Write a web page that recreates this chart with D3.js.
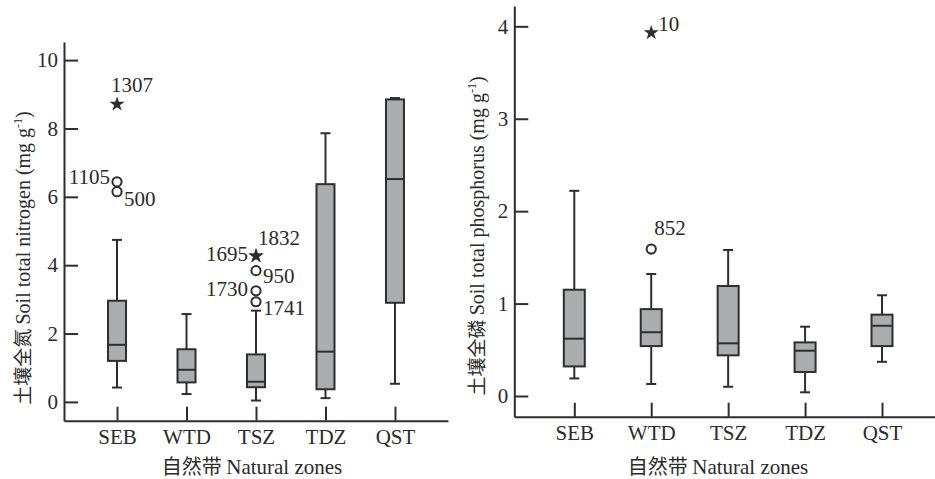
<!DOCTYPE html>
<html>
<head>
<meta charset="utf-8">
<script src="https://cdn.jsdelivr.net/npm/d3@7"></script>
<style>
  body { margin: 0; background: #fff; }
  text { font-family: "Liberation Serif", "Times New Roman", serif; fill: #2a2a2a; }
  .cjk { font-family: "Noto Sans CJK SC", sans-serif; fill: #2a2a2a; }
</style>
</head>
<body>
<script>
// zones on the x axis
var zones = ["SEB", "WTD", "TSZ", "TDZ", "QST"];

// total nitrogen (mg g-1), box statistics per zone
var nLow    = [0.42, 0.23, 0.04, 0.11, 0.53];
var nQ1     = [1.20, 0.57, 0.43, 0.37, 2.90];
var nMedian = [1.67, 0.94, 0.59, 1.47, 6.52];
var nQ3     = [2.96, 1.54, 1.39, 6.37, 8.85];
var nHigh   = [4.74, 2.57, 2.67, 7.86, 8.89];
var nOutliers = [
  {zone: "SEB", value: 8.71, id: "1307", kind: "extreme"},
  {zone: "SEB", value: 6.44, id: "1105", kind: "outlier"},
  {zone: "SEB", value: 6.15, id: "500",  kind: "outlier"},
  {zone: "TSZ", value: 4.27, id: "1695", kind: "extreme"},
  {zone: "TSZ", value: 4.27, id: "1832", kind: "extreme"},
  {zone: "TSZ", value: 3.84, id: "950",  kind: "outlier"},
  {zone: "TSZ", value: 3.25, id: "1730", kind: "outlier"},
  {zone: "TSZ", value: 2.93, id: "1741", kind: "outlier"}
];
var nTicks = [0, 2, 4, 6, 8, 10];

// total phosphorus (mg g-1)
var pLow    = [0.19, 0.13, 0.10, 0.04, 0.37];
var pQ1     = [0.32, 0.54, 0.44, 0.26, 0.54];
var pMedian = [0.62, 0.69, 0.57, 0.49, 0.76];
var pQ3     = [1.15, 0.94, 1.19, 0.58, 0.88];
var pHigh   = [2.22, 1.32, 1.58, 0.75, 1.09];
var pOutliers = [
  {zone: "WTD", value: 3.93, id: "10",  kind: "extreme"},
  {zone: "WTD", value: 1.59, id: "852", kind: "outlier"}
];
var pTicks = [0, 1, 2, 3, 4];

// where each id label sits relative to its point: [dx, dy, anchor]
var labelPlace = {
  "1307": [-6, -12, "start"], "1105": [-7, 2, "end"], "500": [7, 14, "start"],
  "1695": [-8, 5, "end"], "1832": [2, -11, "start"], "950": [7, 12, "start"],
  "1730": [-8, 5, "end"], "1741": [7, 13, "start"],
  "10": [7, -2, "start"], "852": [3, -14, "start"]
};

var ink = "#2e2e2e";
var boxFill = "#abacae";
var fs = 21;

var svg = d3.select("body").append("svg").attr("width", 935).attr("height", 479);

function stats(low, q1, med, q3, high) {
  return zones.map(function(z, i) {
    return {zone: z, low: low[i], q1: q1[i], med: med[i], q3: q3[i], high: high[i]};
  });
}

function drawPanel(p) {
  var x = d3.scalePoint().domain(zones).range(p.xRange).padding(p.xPad);
  var y = d3.scaleLinear().domain(p.yDomain).range(p.yRange);
  var g = svg.append("g");
  var x0 = p.xRange[0], y0 = p.yRange[0];

  // axes, ticks pointing inwards
  var yAxis = d3.axisLeft(y).tickValues(p.ticks).tickFormat(d3.format("d"))
    .tickSize(-14).tickSizeOuter(0).tickPadding(6);
  var xAxis = d3.axisBottom(x).tickSize(-14).tickSizeOuter(0).tickPadding(8);

  var ya = g.append("g").attr("transform", "translate(" + x0 + ",0)").call(yAxis);
  var xa = g.append("g").attr("transform", "translate(0," + y0 + ")").call(xAxis);
  [ya, xa].forEach(function(a) {
    a.select(".domain").attr("stroke", ink).attr("stroke-width", 2);
    a.selectAll(".tick line").attr("stroke", ink).attr("stroke-width", 2);
    a.selectAll(".tick text").attr("font-size", fs).attr("fill", ink);
  });

  // boxes
  var bw = p.boxW, cap = p.capW;
  var box = g.selectAll(".box").data(p.data).enter().append("g");
  box.append("line")
    .attr("x1", function(d){ return x(d.zone); }).attr("x2", function(d){ return x(d.zone); })
    .attr("y1", function(d){ return y(d.high); }).attr("y2", function(d){ return y(d.low); })
    .attr("stroke", ink).attr("stroke-width", 2);
  ["high", "low"].forEach(function(k) {
    box.append("line")
      .attr("x1", function(d){ return x(d.zone) - cap / 2; }).attr("x2", function(d){ return x(d.zone) + cap / 2; })
      .attr("y1", function(d){ return y(d[k]); }).attr("y2", function(d){ return y(d[k]); })
      .attr("stroke", ink).attr("stroke-width", 2);
  });
  box.append("rect")
    .attr("x", function(d){ return x(d.zone) - bw / 2; })
    .attr("width", bw)
    .attr("y", function(d){ return y(d.q3); })
    .attr("height", function(d){ return y(d.q1) - y(d.q3); })
    .attr("fill", boxFill).attr("stroke", ink).attr("stroke-width", 2);
  box.append("line")
    .attr("x1", function(d){ return x(d.zone) - bw / 2; }).attr("x2", function(d){ return x(d.zone) + bw / 2; })
    .attr("y1", function(d){ return y(d.med); }).attr("y2", function(d){ return y(d.med); })
    .attr("stroke", ink).attr("stroke-width", 2);

  // outliers: circles and stars
  var star = d3.symbol().type(d3.symbolStar).size(70);
  p.outliers.forEach(function(o) {
    var cx = x(o.zone), cy = y(o.value);
    if (o.kind === "extreme") {
      g.append("path").attr("d", star).attr("transform", "translate(" + cx + "," + cy + ")").attr("fill", ink);
    } else {
      g.append("circle").attr("cx", cx).attr("cy", cy).attr("r", 4.6)
        .attr("fill", "#fff").attr("stroke", ink).attr("stroke-width", 2);
    }
    var lp = labelPlace[o.id];
    g.append("text").attr("x", cx + lp[0]).attr("y", cy + lp[1])
      .attr("text-anchor", lp[2]).attr("font-size", fs).text(o.id);
  });

  // axis titles
  var xt = g.append("text").attr("x", p.xTitle[0]).attr("y", p.xTitle[1])
    .attr("text-anchor", "middle").attr("font-size", fs);
  xt.append("tspan").attr("class", "cjk").attr("font-size", 20).text("自然带 ");
  xt.append("tspan").text("Natural zones");

  var yt = g.append("text")
    .attr("transform", "translate(" + p.yTitle[0] + "," + p.yTitle[1] + ") rotate(-90)")
    .attr("text-anchor", "middle").attr("font-size", 20);
  yt.append("tspan").attr("class", "cjk").attr("font-size", 19).text(p.cjk + " ");
  yt.append("tspan").text(p.label + " (mg g");
  yt.append("tspan").attr("font-size", 12).attr("dy", -8).text("-1");
  yt.append("tspan").attr("dy", 8).text(")");
}

drawPanel({
  data: stats(nLow, nQ1, nMedian, nQ3, nHigh),
  outliers: nOutliers, ticks: nTicks,
  xRange: [64, 448], xPad: 0.763,
  yDomain: [-0.55, 10.53], yRange: [420.7, 42],
  boxW: 18, capW: 10,
  xTitle: [252, 474], yTitle: [30, 258],
  cjk: "土壤全氮", label: "Soil total nitrogen"
});

drawPanel({
  data: stats(pLow, pQ1, pMedian, pQ3, pHigh),
  outliers: pOutliers, ticks: pTicks,
  xRange: [514.3, 942], xPad: 0.78,
  yDomain: [-0.224, 4.22], yRange: [416.7, 6],
  boxW: 21, capW: 10,
  xTitle: [718, 474], yTitle: [484, 236],
  cjk: "土壤全磷", label: "Soil total phosphorus"
});
</script>
</body>
</html>
